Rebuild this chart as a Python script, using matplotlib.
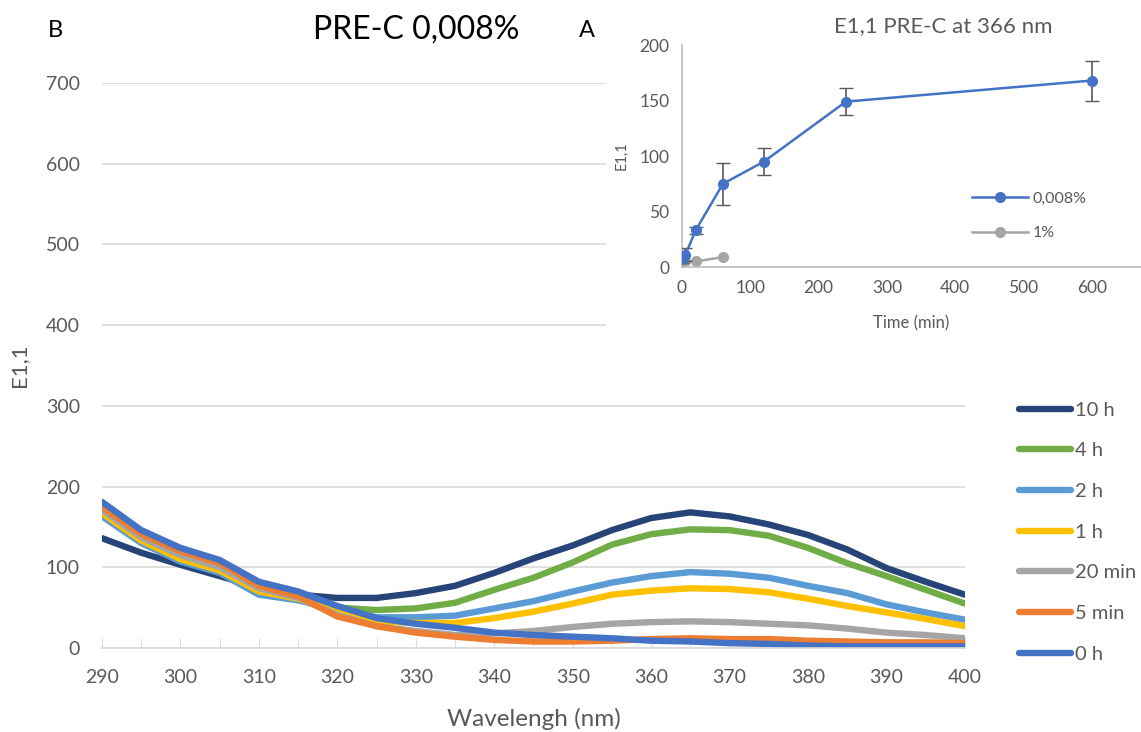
import matplotlib
matplotlib.use("Agg")
import matplotlib.pyplot as plt
from matplotlib.patches import Rectangle

plt.rcParams['font.family'] = ['Lato', 'DejaVu Sans']

# wavelength grid (nm)
wavelength = [290, 295, 300, 305, 310, 315, 320, 325, 330, 335, 340, 345,
              350, 355, 360, 365, 370, 375, 380, 385, 390, 395, 400]

# E1,1 spectra
e_10h = [136, 118, 103, 89, 75, 66, 62, 62, 68, 77, 93, 111,
         127, 146, 161, 168, 163, 153, 140, 122, 99, 82, 66]
e_4h = [165, 131, 108, 94, 67, 60, 50, 47, 49, 56, 72, 87,
        106, 128, 141, 147, 146, 139, 124, 105, 89, 72, 55]
e_2h = [163, 130, 107, 93, 66, 59, 47, 38, 38, 40, 49, 58,
        70, 81, 89, 94, 92, 87, 77, 68, 54, 44, 35]
e_1h = [167, 133, 110, 96, 70, 61, 44, 33, 31, 31, 37, 45,
        55, 66, 71, 74, 73, 69, 61, 52, 44, 36, 27]
e_20min = [171, 137, 115, 100, 74, 62, 41, 27, 21, 16, 18, 21,
           26, 30, 32, 33, 32, 30, 28, 24, 19, 16, 12]
e_5min = [175, 141, 120, 105, 77, 64, 39, 27, 19, 14, 10, 8,
          8, 9, 11, 12, 11, 11, 9, 8, 7, 7, 6]
e_0h = [181, 146, 124, 109, 82, 70, 52, 37, 30, 25, 19, 16,
        14, 12, 9, 8, 6, 5, 3, 2, 2, 2, 2]

series = [e_10h, e_4h, e_2h, e_1h, e_20min, e_5min, e_0h]
labels = ['10 h', '4 h', '2 h', '1 h', '20 min', '5 min', '0 h']
colors = ['#264478', '#70AD47', '#5B9BD5', '#FFC000', '#A5A5A5', '#ED7D31', '#4472C4']

# inset: E1,1 at 366 nm vs time
t_low = [0, 5, 20, 60, 120, 240, 600]
e_low = [7, 11, 33, 75, 95, 149, 168]
err_low = [3, 6, 3, 19, 12, 12, 18]
t_high = [0, 5, 20, 60]
e_high = [4.5, 5.5, 5, 9]

fig = plt.figure(figsize=(11.41, 7.32), dpi=100)
ax = fig.add_axes([0.0894, 0.1148, 0.7563, 0.7718])

for y, lab, c in zip(series, labels, colors):
    ax.plot(wavelength, y, color=c, lw=4.6, label=lab, solid_capstyle='round')

ax.set_xlim(290, 400)
ax.set_ylim(0, 700)
ax.set_xticks(range(290, 401, 10))
ax.set_xticks(range(290, 401, 5), minor=True)
ax.set_yticks(range(0, 701, 100))
ax.grid(axis='y', color='#D9D9D9', lw=1.2)
ax.set_axisbelow(True)
for s in ['top', 'right', 'left']:
    ax.spines[s].set_visible(False)
ax.spines['bottom'].set_color('#D9D9D9')
ax.spines['bottom'].set_linewidth(1.2)
ax.tick_params(axis='x', which='both', direction='in', length=7, color='#D9D9D9',
               labelsize=14, labelcolor='#595959', pad=15)
ax.tick_params(axis='y', length=0, labelsize=14, labelcolor='#595959', pad=16)
ax.set_xlabel('Wavelengh (nm)', fontsize=17.5, color='#595959', labelpad=16)
ax.set_ylabel('E1,1', fontsize=16, color='#595959', labelpad=12)

fig.legend(loc='upper left', bbox_to_anchor=(0.877, 0.476), frameon=False,
           fontsize=14.5, handlelength=2.6, handletextpad=0.2, labelspacing=1.17,
           labelcolor='#595959')

fig.text(0.049, 0.959, 'B', fontsize=17, ha='center', va='center')
fig.text(0.365, 0.959, 'PRE-C 0,008%', fontsize=23, ha='center', va='center')
fig.text(0.514, 0.959, 'A', fontsize=17, ha='center', va='center')

# white box behind the inset
fig.patches.append(Rectangle((0.531, 0.535), 0.47, 0.47, transform=fig.transFigure,
                             facecolor='white', edgecolor='none', zorder=1))

ins = fig.add_axes([0.5977, 0.6352, 0.4023, 0.3033], zorder=2)
ins.patch.set_alpha(0)
h1 = ins.errorbar(t_low, e_low, yerr=err_low, color='#4472C4', marker='o', ms=7, lw=1.8,
                  ecolor='#595959', elinewidth=1.2, capsize=5, label='0,008%', zorder=3)
h2, = ins.plot(t_high, e_high, color='#A5A5A5', marker='o', ms=7, lw=1.8, label='1%', zorder=2)
ins.set_xlim(0, 672)
ins.set_ylim(0, 200)
ins.set_xticks(range(0, 601, 100))
ins.set_yticks(range(0, 201, 50))
for s in ['top', 'right']:
    ins.spines[s].set_visible(False)
for s in ['left', 'bottom']:
    ins.spines[s].set_color('#BFBFBF')
    ins.spines[s].set_linewidth(1.2)
ins.tick_params(length=0, labelsize=12.5, labelcolor='#595959', pad=9)
ins.set_xlabel('Time (min)', fontsize=12, color='#595959', labelpad=14)
ins.set_ylabel('E1,1', fontsize=10.5, color='#595959', labelpad=8)
ins.set_title('E1,1 PRE-C at 366 nm', fontsize=16, color='#595959', pad=9,
              x=0.57)
ins.legend([h1.lines[0], h2], ['0,008%', '1%'], loc='center left',
           bbox_to_anchor=(0.6, 0.23), frameon=False, fontsize=11.5,
           handlelength=3.5, handletextpad=0.3, labelspacing=1.25, labelcolor='#595959')

fig.savefig('out.png', dpi=100)
